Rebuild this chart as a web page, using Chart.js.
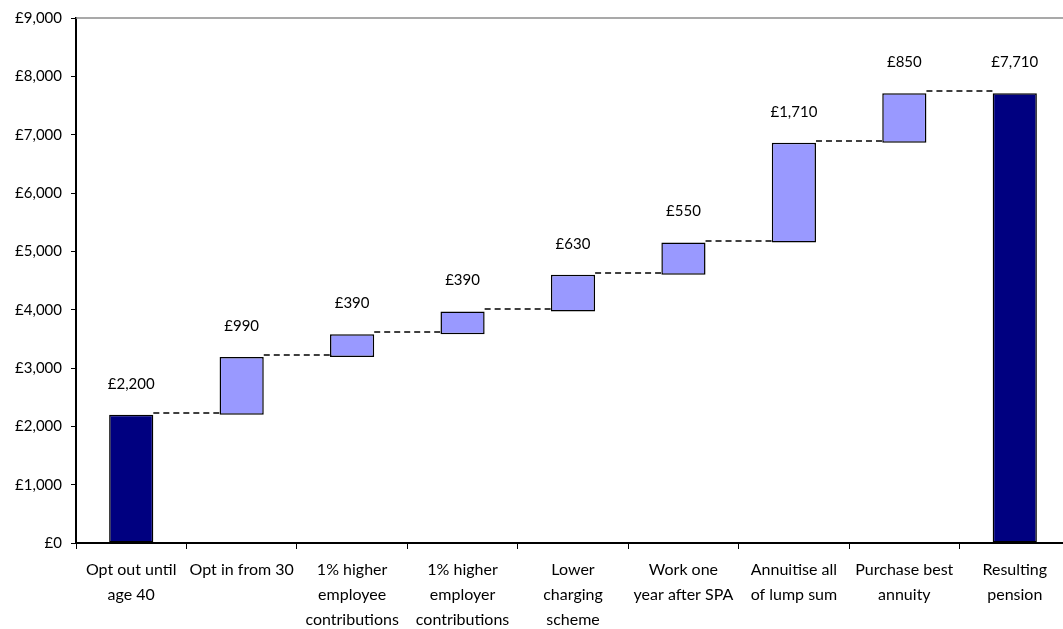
<!DOCTYPE html>
<html>
<head>
<meta charset="utf-8">
<script src="https://cdn.jsdelivr.net/npm/chart.js@4/dist/chart.umd.min.js"></script>
<style>
  html, body { margin: 0; padding: 0; background: #fff; overflow: hidden; }
  #wrap { position: relative; width: 1075px; height: 629px; }
</style>
</head>
<body>
<div id="wrap"><canvas id="chart"></canvas></div>
<script>
// Pension waterfall: starting pension, the gain from each change, resulting pension
const categories = [
  ['Opt out until', 'age 40'],
  ['Opt in from 30'],
  ['1% higher', 'employee', 'contributions'],
  ['1% higher', 'employer', 'contributions'],
  ['Lower', 'charging', 'scheme'],
  ['Work one', 'year after SPA'],
  ['Annuitise all', 'of lump sum'],
  ['Purchase best', 'annuity'],
  ['Resulting', 'pension']
];
const startValue = 2200;
const stepValues = [990, 390, 390, 630, 550, 1710, 850];
const resultValue = 7710;
const yMax = 9000;
const yStep = 1000;

const totalColor = '#000080';
const stepColor = '#9999FF';

// floating ranges [from, to] built from the running total
const ranges = [[0, startValue]];
const labelValues = [startValue];
const levels = [startValue];
let running = startValue;
stepValues.forEach(v => {
  ranges.push([running, running + v]);
  running += v;
  labelValues.push(v);
  levels.push(running);
});
ranges.push([0, resultValue]);
labelValues.push(resultValue);

const colors = ranges.map((r, i) => (i === 0 || i === ranges.length - 1) ? totalColor : stepColor);

const fmt = v => '£' + v.toLocaleString('en-GB');
const FONT = 'Lato, "Open Sans", sans-serif';

const waterfallExtras = {
  id: 'waterfallExtras',
  afterDatasetsDraw(chart) {
    const ctx = chart.ctx;
    const meta = chart.getDatasetMeta(0);
    const y = chart.scales.y;
    const area = chart.chartArea;
    ctx.save();
    // frame line along the top of the plot
    ctx.strokeStyle = '#8c8c8c';
    ctx.lineWidth = 1.5;
    ctx.beginPath();
    ctx.moveTo(area.left, area.top);
    ctx.lineTo(area.right, area.top);
    ctx.stroke();
    // dashed connectors between consecutive bars, sitting just above the level
    ctx.strokeStyle = '#000';
    ctx.lineWidth = 1.5;
    ctx.setLineDash([6, 4]);
    for (let i = 0; i < meta.data.length - 1; i++) {
      const a = meta.data[i], b = meta.data[i + 1];
      const py = Math.round(y.getPixelForValue(levels[i])) - 2;
      ctx.beginPath();
      ctx.moveTo(a.x + a.width / 2, py);
      ctx.lineTo(b.x - b.width / 2, py);
      ctx.stroke();
    }
    ctx.setLineDash([]);
    // value labels above each bar
    ctx.fillStyle = '#000';
    ctx.font = '15px ' + FONT;
    ctx.textAlign = 'center';
    ctx.textBaseline = 'middle';
    meta.data.forEach((el, i) => {
      const top = Math.min(el.y, el.base);
      ctx.fillText(fmt(labelValues[i]), el.x, top - 31);
    });
    ctx.restore();
  }
};

new Chart(document.getElementById('chart'), {
  type: 'bar',
  data: {
    labels: categories,
    datasets: [{
      data: ranges,
      backgroundColor: colors,
      borderColor: '#000',
      borderWidth: 1.5,
      borderSkipped: false,
      barPercentage: 0.4,
      categoryPercentage: 1.0
    }]
  },
  options: {
    responsive: true,
    maintainAspectRatio: false,
    animation: false,
    layout: { padding: { top: 16, right: 5, left: 0, bottom: 0 } },
    plugins: {
      legend: { display: false },
      tooltip: { enabled: false }
    },
    scales: {
      x: {
        grid: {
          display: true,
          drawOnChartArea: false,
          drawTicks: true,
          tickLength: 6,
          color: '#000',
          offset: true
        },
        border: { display: true, color: '#000', width: 2 },
        ticks: {
          color: '#000',
          font: { family: FONT, size: 16, lineHeight: 1.54 },
          padding: 9,
          maxRotation: 0,
          autoSkip: false
        },
        afterFit(scale) { scale.height = 86; }
      },
      y: {
        min: 0,
        max: yMax,
        grid: {
          display: true,
          drawOnChartArea: false,
          drawTicks: true,
          tickLength: 5,
          color: '#000'
        },
        border: { display: true, color: '#000', width: 2 },
        ticks: {
          stepSize: yStep,
          color: '#000',
          font: { family: FONT, size: 15 },
          padding: 9,
          callback: v => fmt(v)
        },
        afterFit(scale) { scale.width = 76; }
      }
    }
  },
  plugins: [waterfallExtras]
});
</script>
</body>
</html>
